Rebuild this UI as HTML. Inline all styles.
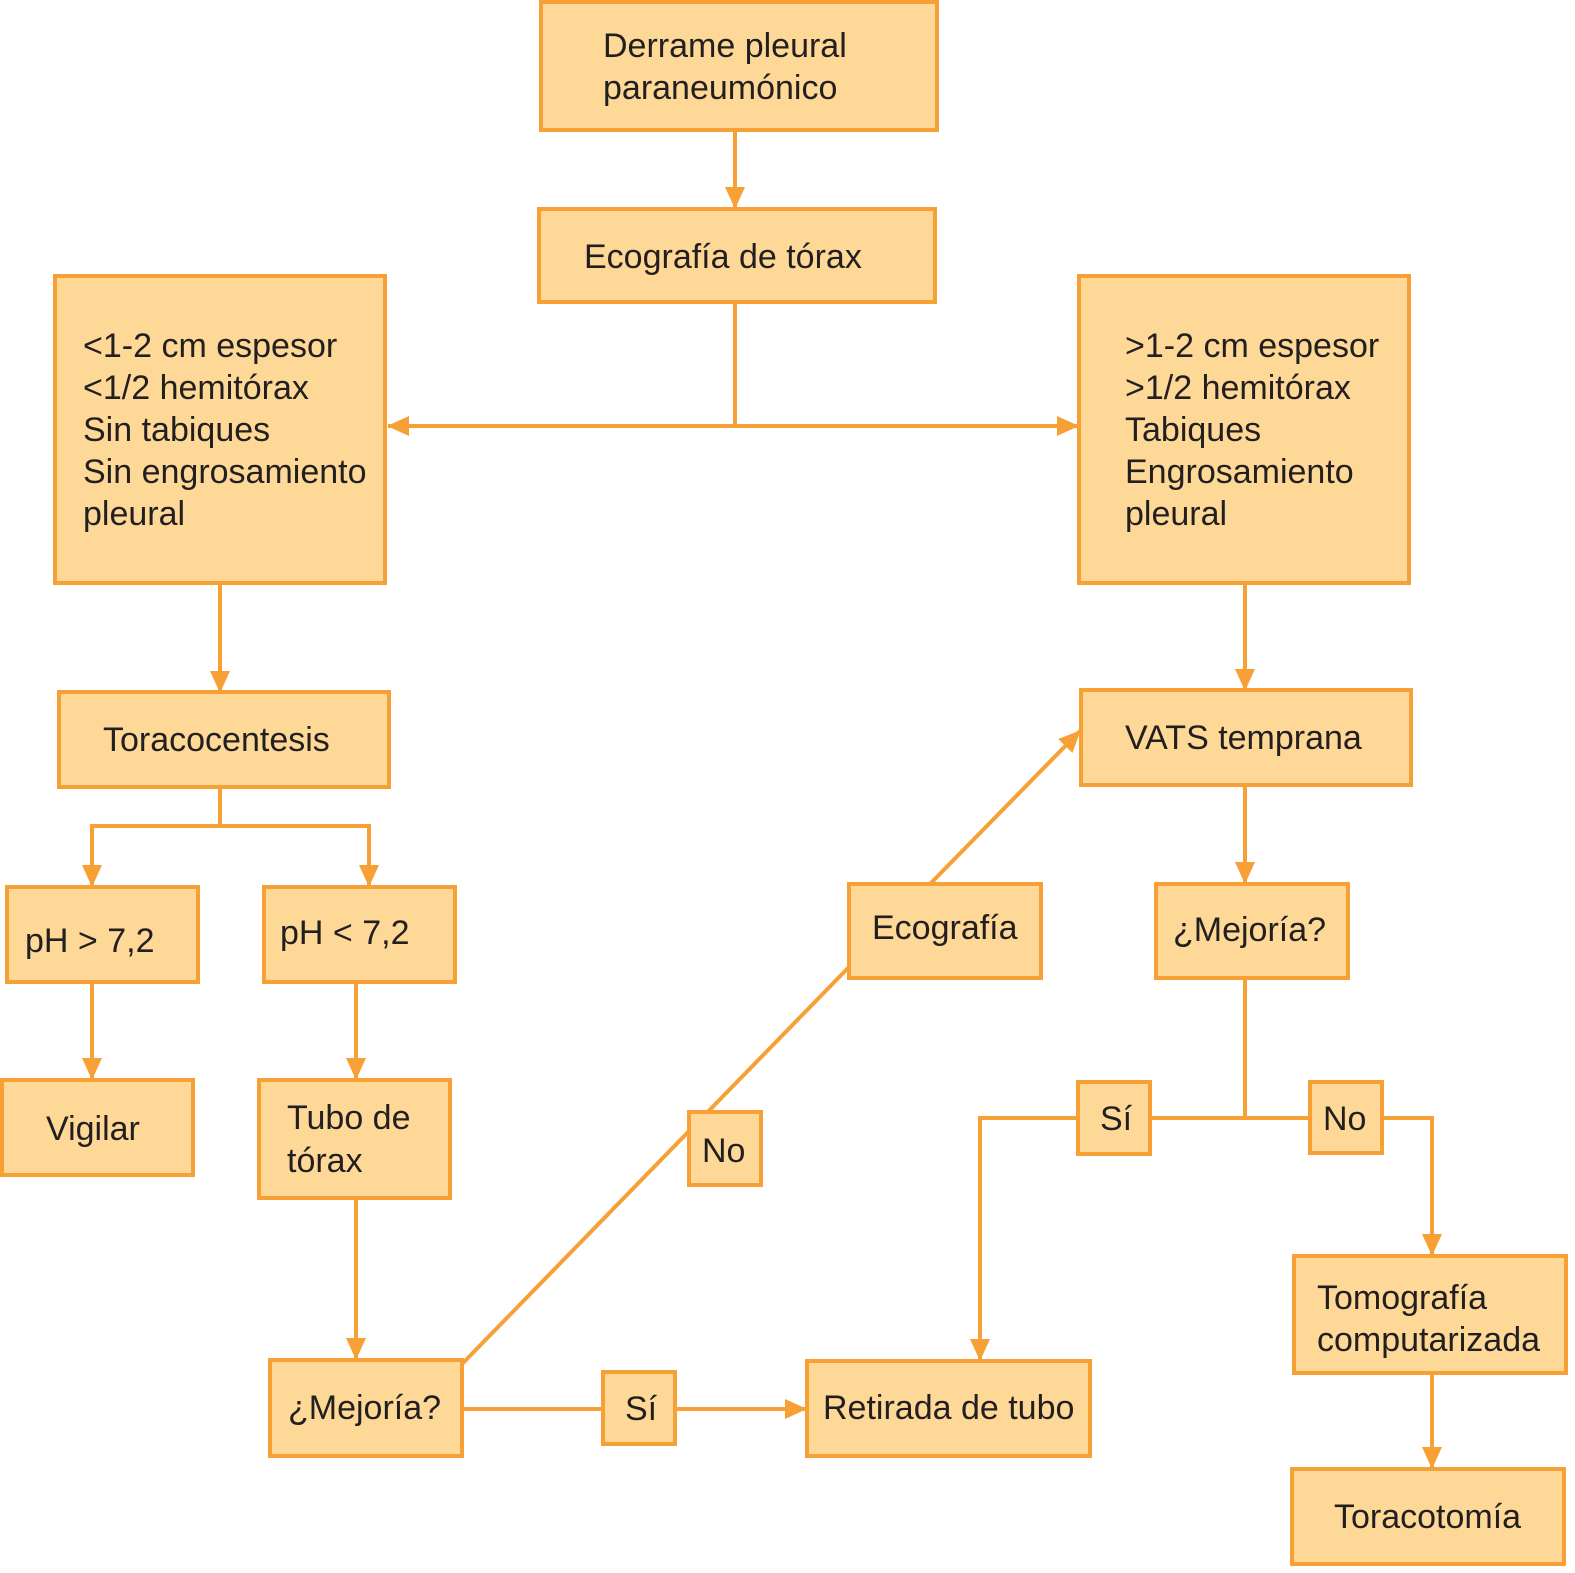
<!DOCTYPE html>
<html><head><meta charset="utf-8"><style>
html,body{margin:0;padding:0;background:#fff;}
svg{display:block}
text{font-family:"Liberation Sans",sans-serif;font-size:34px;fill:#231f20;}
</style></head><body>
<svg width="1575" height="1573" viewBox="0 0 1575 1573" xmlns="http://www.w3.org/2000/svg">
<defs>
<marker id="a" markerWidth="22" markerHeight="22" refX="21" refY="11" orient="auto" markerUnits="userSpaceOnUse">
<path d="M0,1 L22,11 L0,21 Z" fill="#f7a035"/>
</marker>
</defs>
<g stroke="#f7a035" stroke-width="4" fill="none">
<line x1="735" y1="130" x2="735" y2="208" marker-end="url(#a)"/>
<line x1="735" y1="302" x2="735" y2="426"/>
<line x1="735" y1="426" x2="388" y2="426" marker-end="url(#a)"/>
<line x1="735" y1="426" x2="1078" y2="426" marker-end="url(#a)"/>
<line x1="220" y1="583" x2="220" y2="692" marker-end="url(#a)"/>
<line x1="220" y1="787" x2="220" y2="826"/>
<polyline points="92,886 92,826 369,826 369,886"/>
<line x1="92" y1="860" x2="92" y2="886" marker-end="url(#a)"/>
<line x1="369" y1="860" x2="369" y2="886" marker-end="url(#a)"/>
<line x1="92" y1="982" x2="92" y2="1079" marker-end="url(#a)"/>
<line x1="356" y1="982" x2="356" y2="1079" marker-end="url(#a)"/>
<line x1="356" y1="1198" x2="356" y2="1359" marker-end="url(#a)"/>
<line x1="462" y1="1409" x2="603" y2="1409"/>
<line x1="675" y1="1409" x2="806" y2="1409" marker-end="url(#a)"/>
<line x1="462" y1="1364" x2="849" y2="967"/>
<line x1="930" y1="884" x2="1080" y2="731" marker-end="url(#a)"/>
<line x1="1245" y1="583" x2="1245" y2="690" marker-end="url(#a)"/>
<line x1="1245" y1="785" x2="1245" y2="883" marker-end="url(#a)"/>
<line x1="1245" y1="978" x2="1245" y2="1118"/>
<line x1="1150" y1="1118" x2="1310" y2="1118"/>
<polyline points="1078,1118 980,1118 980,1360" marker-end="url(#a)"/>
<polyline points="1382,1118 1432,1118 1432,1255" marker-end="url(#a)"/>
<line x1="1432" y1="1373" x2="1432" y2="1468" marker-end="url(#a)"/>
</g>
<g fill="#fdd896" stroke="#f7a035" stroke-width="4">
<rect x="541" y="2" width="396" height="128"/>
<rect x="539" y="209" width="396" height="93"/>
<rect x="55" y="276" width="330" height="307"/>
<rect x="1079" y="276" width="330" height="307"/>
<rect x="59" y="692" width="330" height="95"/>
<rect x="7" y="887" width="191" height="95"/>
<rect x="264" y="887" width="191" height="95"/>
<rect x="2" y="1080" width="191" height="95"/>
<rect x="259" y="1080" width="191" height="118"/>
<rect x="270" y="1360" width="192" height="96"/>
<rect x="603" y="1372" width="72" height="72"/>
<rect x="807" y="1361" width="283" height="95"/>
<rect x="689" y="1112" width="72" height="73"/>
<rect x="849" y="884" width="192" height="94"/>
<rect x="1081" y="690" width="330" height="95"/>
<rect x="1156" y="884" width="192" height="94"/>
<rect x="1078" y="1082" width="72" height="72"/>
<rect x="1310" y="1082" width="72" height="71"/>
<rect x="1294" y="1256" width="272" height="117"/>
<rect x="1292" y="1469" width="272" height="95"/>
</g>
<g>
<text x="603" y="57">Derrame pleural</text>
<text x="603" y="99">paraneumónico</text>
<text x="584" y="268">Ecografía de tórax</text>
<text x="83" y="357">&lt;1-2 cm espesor</text>
<text x="83" y="399">&lt;1/2 hemitórax</text>
<text x="83" y="441">Sin tabiques</text>
<text x="83" y="483">Sin engrosamiento</text>
<text x="83" y="525">pleural</text>
<text x="1125" y="357">&gt;1-2 cm espesor</text>
<text x="1125" y="399">&gt;1/2 hemitórax</text>
<text x="1125" y="441">Tabiques</text>
<text x="1125" y="483">Engrosamiento</text>
<text x="1125" y="525">pleural</text>
<text x="103" y="751">Toracocentesis</text>
<text x="25" y="952">pH &gt; 7,2</text>
<text x="280" y="944">pH &lt; 7,2</text>
<text x="46" y="1140">Vigilar</text>
<text x="287" y="1129">Tubo de</text>
<text x="287" y="1172">tórax</text>
<text x="288" y="1419">¿Mejoría?</text>
<text x="625" y="1420">Sí</text>
<text x="823" y="1419">Retirada de tubo</text>
<text x="702" y="1162">No</text>
<text x="872" y="939">Ecografía</text>
<text x="1125" y="749">VATS temprana</text>
<text x="1173" y="941">¿Mejoría?</text>
<text x="1100" y="1130">Sí</text>
<text x="1323" y="1130">No</text>
<text x="1317" y="1309">Tomografía</text>
<text x="1317" y="1351">computarizada</text>
<text x="1334" y="1528">Toracotomía</text>
</g>
</svg>
</body></html>
